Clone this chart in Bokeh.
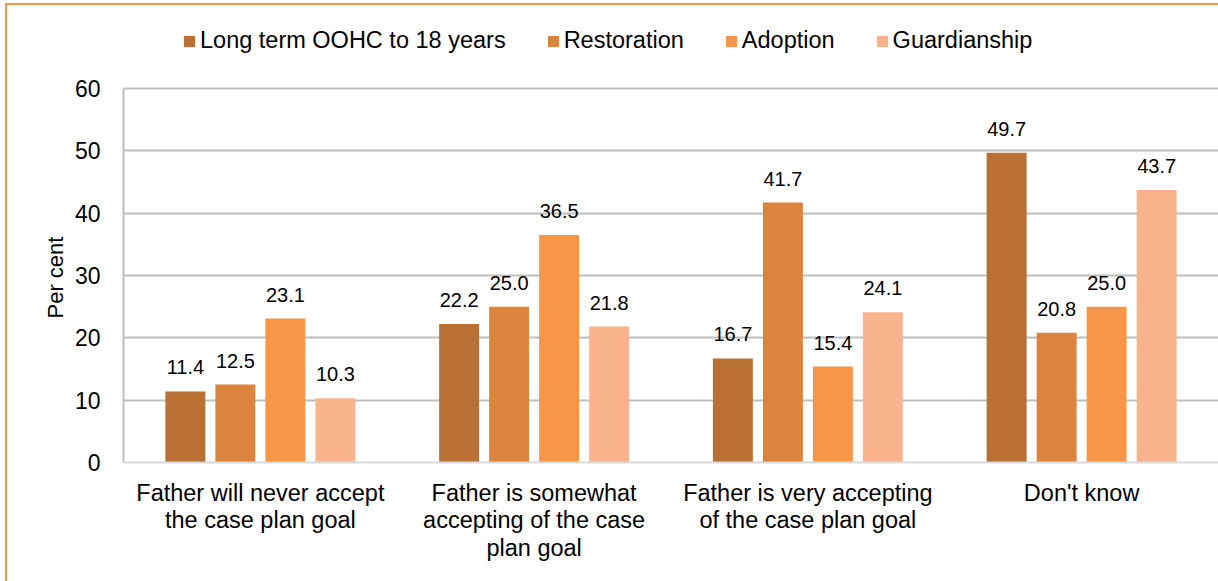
from bokeh.plotting import figure
from bokeh.models import ColumnDataSource, FactorRange, Range1d, Legend, LegendItem, FixedTicker, LabelSet, Title
from bokeh.transform import dodge
from bokeh.core.properties import value
from bokeh.embed import file_html
from bokeh.resources import INLINE

categories = [
    "Father will never accept\nthe case plan goal",
    "Father is somewhat\naccepting of the case\nplan goal",
    "Father is very accepting\nof the case plan goal",
    "Don't know",
]
series_names = ["Long term OOHC to 18 years", "Restoration", "Adoption", "Guardianship"]
long_term = [11.4, 22.2, 16.7, 49.7]
restoration = [12.5, 25.0, 41.7, 20.8]
adoption = [23.1, 36.5, 15.4, 25.0]
guardianship = [10.3, 21.8, 24.1, 43.7]
y_ticks = [0, 10, 20, 30, 40, 50, 60]
y_title = "Per cent"

colors = ["#B87034", "#DB843E", "#F79646", "#F9B48E"]
offsets = [-0.274, -0.0913, 0.0913, 0.274]
FONT = "Liberation Sans"

# Layout: frame spans whole height above the x axis; the value axis (0-60) occupies
# the lower 374 px, the space above holds the legend.
FIG_W, FIG_H = 1218, 581
BOTTOM = 119
AXIS_PX = 374
frame_h = FIG_H - BOTTOM
y_end = 60 * frame_h / AXIS_PX

p = figure(
    width=FIG_W, height=FIG_H,
    x_range=FactorRange(factors=categories, range_padding=0),
    y_range=Range1d(0, y_end),
    output_backend="svg", toolbar_location=None,
    min_border_left=123, min_border_right=0, min_border_top=0, min_border_bottom=BOTTOM,
)
p.border_fill_color = None
p.background_fill_color = None
p.styles = {"box-shadow": "inset 5px 3px 0 0 #ffffff, inset 7px 5px 0 0 #F79646"}

data = dict(cat=categories)
keys = ["long_term", "restoration", "adoption", "guardianship"]
for k, vals in zip(keys, [long_term, restoration, adoption, guardianship]):
    data[k] = vals
    data[k + "_lbl"] = ["%.1f" % v for v in vals]
src = ColumnDataSource(data)

items = []
for k, name, c, off in zip(keys, series_names, colors, offsets):
    r = p.vbar(x=dodge("cat", off, range=p.x_range), top=k, width=0.146, source=src,
               fill_color=c, line_color=None)
    items.append(LegendItem(label=name, renderers=[r]))
    lbl = LabelSet(x=dodge("cat", off, range=p.x_range), y=k, text=k + "_lbl", source=src,
                   text_align="center", text_baseline="alphabetic", y_offset=17,
                   text_font=value(FONT), text_font_size="20px", text_color="#000000")
    p.add_layout(lbl)

legend = Legend(items=items, orientation="horizontal", location=(59, 408),
                label_text_font=FONT, label_text_font_size="23.5px", label_text_color="#000000",
                glyph_width=14, glyph_height=14, label_standoff=4, spacing=40,
                padding=0, margin=0, border_line_color=None, background_fill_alpha=0)
p.add_layout(legend, "center")

p.outline_line_color = None
p.xgrid.grid_line_color = None
p.ygrid.grid_line_color = "#BFBFBF"
p.ygrid.grid_line_width = 2
p.yaxis.ticker = FixedTicker(ticks=y_ticks)
p.yaxis.bounds = (0, 60)
p.yaxis.axis_line_color = "#BFBFBF"
p.yaxis.axis_line_width = 2
p.yaxis.major_tick_line_color = None
p.yaxis.minor_tick_line_color = None
p.yaxis.major_label_standoff = 17
p.yaxis.major_label_text_font = FONT
p.yaxis.major_label_text_font_size = "23px"
p.yaxis.major_label_text_color = "#000000"

ytitle = Title(text=y_title, align="left", offset=144, standoff=8,
               text_font=FONT, text_font_size="22px", text_font_style="normal",
               text_color="#000000")
p.add_layout(ytitle, "left")

p.xaxis.axis_line_color = "#D9D9D9"
p.xaxis.axis_line_width = 2
p.xaxis.major_tick_line_color = None
p.xaxis.minor_tick_line_color = None
p.xaxis.major_label_standoff = 11
p.xaxis.major_label_text_font = FONT
p.xaxis.major_label_text_font_size = "23.5px"
p.xaxis.major_label_text_line_height = 1.06
p.xaxis.major_label_text_color = "#000000"

open("out.html", "w").write(file_html(p, INLINE))
